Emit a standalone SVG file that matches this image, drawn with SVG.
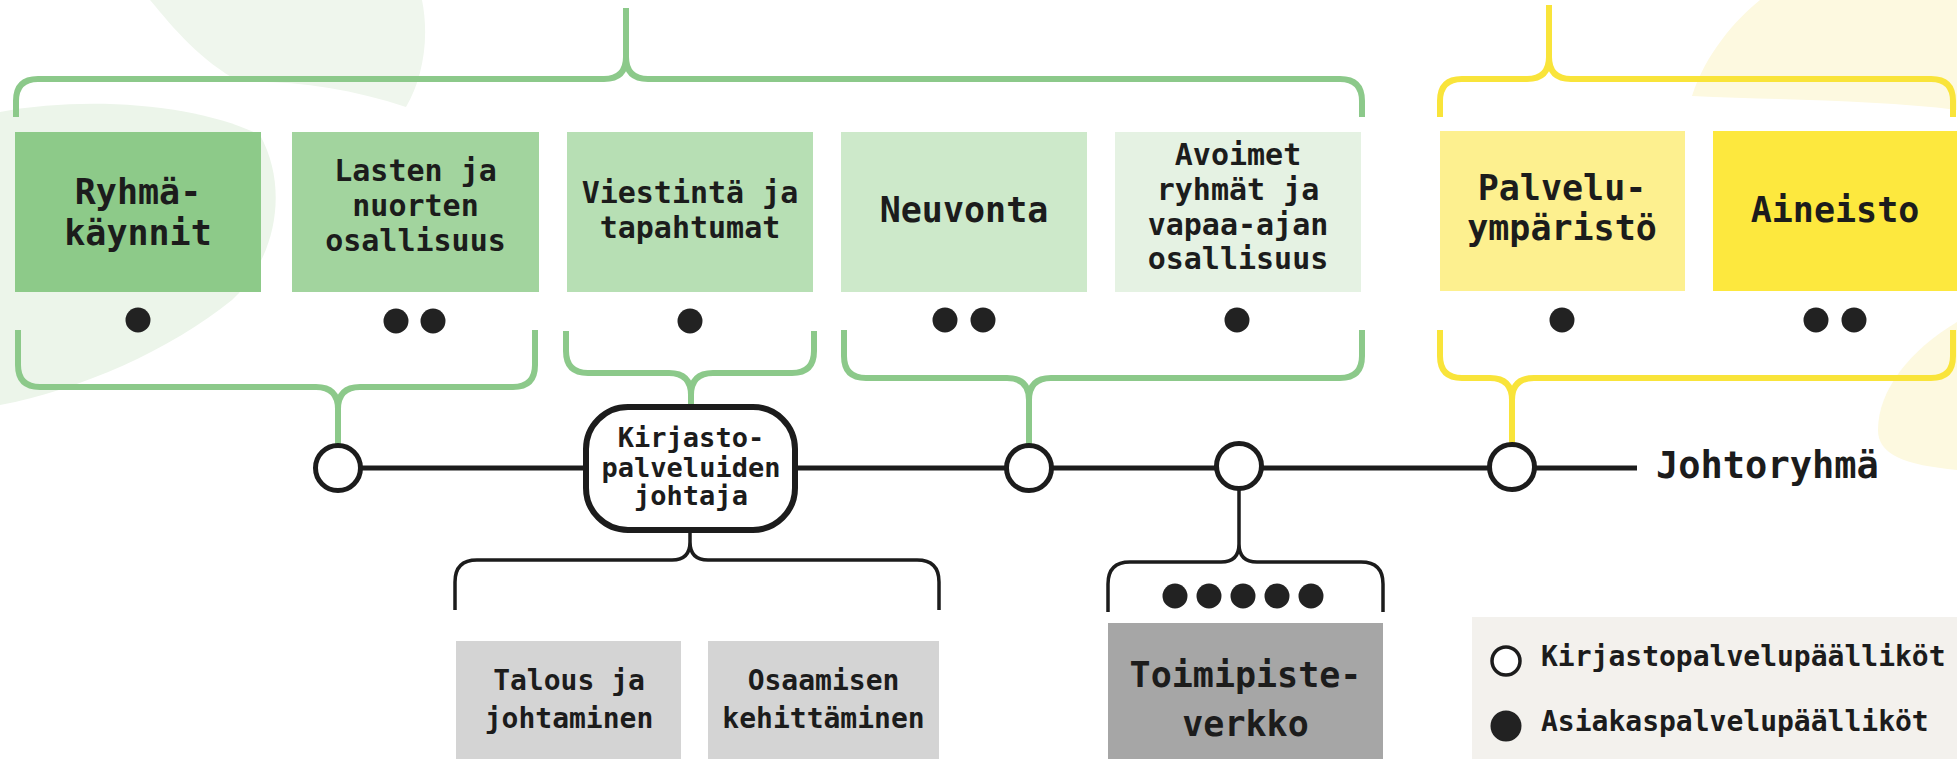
<svg xmlns="http://www.w3.org/2000/svg" width="1957" height="759" viewBox="0 0 1957 759">
<style>
.t{font-family:"DejaVu Sans Mono","Liberation Mono",monospace;font-weight:bold;fill:#1c1c1c;text-anchor:middle}
.l{font-size:35px}
.m{font-size:30px}
.s{font-size:27px}
.g{fill:none;stroke:#8cc98a;stroke-width:6}
.y{fill:none;stroke:#f9e43a;stroke-width:6}
.k{fill:none;stroke:#1c1c1c;stroke-width:3.5}
.ring{fill:#fff;stroke:#1c1c1c;stroke-width:5}
.dot{fill:#222}
</style>
<rect width="1957" height="759" fill="#fff"/>
<g id="background">
<path d="M 150,0 L 422,0 C 430,40 422,80 406,107 C 350,88 290,80 240,82 C 200,60 175,30 150,0 Z" fill="#eff6ed"/>
<path d="M 0,112 C 90,95 200,105 260,135 C 290,190 275,260 232,300 C 170,350 80,390 0,405 Z" fill="#ecf5ea"/>
<path d="M 1692,96 C 1705,55 1735,20 1760,0 L 1957,0 L 1957,110 C 1880,100 1780,100 1692,96 Z" fill="#fdf9e0"/>
<path d="M 1957,322 C 1910,350 1878,390 1878,430 C 1878,455 1905,465 1957,470 Z" fill="#fdf9e0"/>
</g>
<g id="connectors">
<path class="g" d="M 16,117 V 101 Q 16,79 38,79 H 604 Q 626,79 626,57 V 8 M 1362,117 V 101 Q 1362,79 1340,79 H 648 Q 626,79 626,57"/>
<path class="y" d="M 1440,117 V 101 Q 1440,79 1462,79 H 1527 Q 1549,79 1549,57 V 5 M 1953,117 V 101 Q 1953,79 1931,79 H 1571 Q 1549,79 1549,57"/>
<path class="g" d="M 18,330 V 365 Q 18,387 40,387 H 316 Q 338,387 338,409 V 447 M 535,330 V 365 Q 535,387 513,387 H 360 Q 338,387 338,409"/>
<path class="g" d="M 566,331 V 351 Q 566,373 588,373 H 669 Q 691,373 691,395 V 410 M 814,331 V 351 Q 814,373 792,373 H 713 Q 691,373 691,395"/>
<path class="g" d="M 844,330 V 356 Q 844,378 866,378 H 1007 Q 1029,378 1029,400 V 447 M 1362,330 V 356 Q 1362,378 1340,378 H 1051 Q 1029,378 1029,400"/>
<path class="y" d="M 1440,330 V 356 Q 1440,378 1462,378 H 1490 Q 1512,378 1512,400 V 447 M 1953,330 V 356 Q 1953,378 1931,378 H 1534 Q 1512,378 1512,400"/>
<path class="k" d="M 690,528 V 542 Q 690,560 672,560 H 477 Q 455,560 455,582 V 610 M 690,542 Q 690,560 708,560 H 917 Q 939,560 939,582 V 610"/>
<path class="k" d="M 1239,488 V 544 Q 1239,562 1221,562 H 1130 Q 1108,562 1108,584 V 612 M 1239,544 Q 1239,562 1257,562 H 1361 Q 1383,562 1383,584 V 612"/>
<path d="M 338,468 H 1637" fill="none" stroke="#1c1c1c" stroke-width="5"/>
</g>
<g id="ryhmakaynnit">
<rect x="15" y="132" width="246" height="160" fill="#8dca89"/>
<text class="t l" x="138" y="204">Ryhmä-</text>
<text class="t l" x="138" y="245">käynnit</text>
<circle class="dot" cx="138" cy="320" r="12.5"/>
</g>
<g id="lasten">
<rect x="292" y="132" width="247" height="160" fill="#a2d49e"/>
<text class="t m" x="415.5" y="181">Lasten ja</text>
<text class="t m" x="415.5" y="216">nuorten</text>
<text class="t m" x="415.5" y="251">osallisuus</text>
<circle class="dot" cx="396" cy="321" r="12.5"/>
<circle class="dot" cx="433" cy="321" r="12.5"/>
</g>
<g id="viestinta">
<rect x="567" y="132" width="246" height="160" fill="#b7dfb4"/>
<text class="t m" x="690" y="203">Viestintä ja</text>
<text class="t m" x="690" y="238">tapahtumat</text>
<circle class="dot" cx="690" cy="321" r="12.5"/>
</g>
<g id="neuvonta">
<rect x="841" y="132" width="246" height="160" fill="#cde9ca"/>
<text class="t l" x="964" y="222">Neuvonta</text>
<circle class="dot" cx="945" cy="320" r="12.5"/>
<circle class="dot" cx="983" cy="320" r="12.5"/>
</g>
<g id="avoimet">
<rect x="1115" y="132" width="246" height="160" fill="#e5f2e3"/>
<text class="t m" x="1238" y="165">Avoimet</text>
<text class="t m" x="1238" y="200">ryhmät ja</text>
<text class="t m" x="1238" y="234.5">vapaa-ajan</text>
<text class="t m" x="1238" y="269">osallisuus</text>
<circle class="dot" cx="1237" cy="320" r="12.5"/>
</g>
<g id="palveluymparisto">
<rect x="1440" y="131" width="245" height="160" fill="#fdf08f"/>
<text class="t l" x="1562" y="200">Palvelu-</text>
<text class="t l" x="1562" y="240">ympäristö</text>
<circle class="dot" cx="1562" cy="320" r="12.5"/>
</g>
<g id="aineisto">
<rect x="1713" y="131" width="246" height="160" fill="#fde83e"/>
<text class="t l" x="1835" y="222">Aineisto</text>
<circle class="dot" cx="1816" cy="320" r="12.5"/>
<circle class="dot" cx="1854" cy="320" r="12.5"/>
</g>
<g id="johtoryhma">
<circle class="ring" cx="338" cy="468" r="22.5"/>
<circle class="ring" cx="1029" cy="468" r="22.5"/>
<circle class="ring" cx="1239" cy="466" r="22.5"/>
<circle class="ring" cx="1512" cy="467" r="22.5"/>
<text class="t" x="1656" y="478" style="font-size:37px;text-anchor:start">Johtoryhmä</text>
</g>
<g id="kirjastopalveluiden-johtaja">
<rect x="586" y="407" width="209" height="123" rx="42" ry="42" fill="#fff" stroke="#1c1c1c" stroke-width="6"/>
<text class="t s" x="691" y="447">Kirjasto-</text>
<text class="t s" x="691" y="477">palveluiden</text>
<text class="t s" x="691" y="505">johtaja</text>
</g>
<g id="talous">
<rect x="456" y="641" width="225" height="118" fill="#d4d4d4"/>
<text class="t" x="569" y="690" style="font-size:28px">Talous ja</text>
<text class="t" x="569" y="728" style="font-size:28px">johtaminen</text>
</g>
<g id="osaamisen">
<rect x="708" y="641" width="231" height="118" fill="#d4d4d4"/>
<text class="t" x="823.5" y="690" style="font-size:28px">Osaamisen</text>
<text class="t" x="823.5" y="728" style="font-size:28px">kehittäminen</text>
</g>
<g id="toimipisteverkko">
<circle class="dot" cx="1175" cy="596" r="12.5"/>
<circle class="dot" cx="1209" cy="596" r="12.5"/>
<circle class="dot" cx="1243" cy="596" r="12.5"/>
<circle class="dot" cx="1277" cy="596" r="12.5"/>
<circle class="dot" cx="1311" cy="596" r="12.5"/>
<rect x="1108" y="623" width="275" height="136" fill="#a6a6a6"/>
<text class="t l" x="1245.5" y="687">Toimipiste-</text>
<text class="t l" x="1245.5" y="736">verkko</text>
</g>
<g id="legend">
<rect x="1472" y="617" width="485" height="142" fill="#f3f1ed"/>
<circle cx="1506" cy="661" r="14" fill="#fff" stroke="#1c1c1c" stroke-width="3.5"/>
<circle class="dot" cx="1506" cy="726" r="15.5"/>
<text class="t" x="1541" y="666" style="font-size:28px;text-anchor:start">Kirjastopalvelupäälliköt</text>
<text class="t" x="1541" y="731" style="font-size:28px;text-anchor:start">Asiakaspalvelupäälliköt</text>
</g>
</svg>
